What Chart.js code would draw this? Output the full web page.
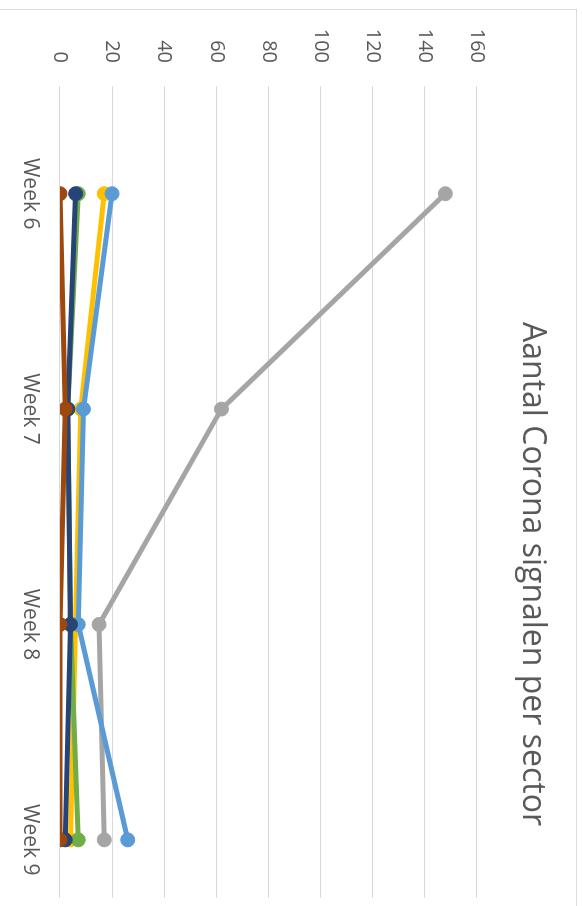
<!DOCTYPE html>
<html>
<head>
<meta charset="utf-8">
<script src="https://cdn.jsdelivr.net/npm/chart.js@4"></script>
<style>
  html, body { margin: 0; padding: 0; background: #fff; overflow: hidden; width: 582px; height: 906px; }
  /* chart is drawn landscape and turned a quarter clockwise, like the scan */
  #wrap { position: absolute; left: 0; top: 0; width: 1200px; height: 582px;
          transform-origin: 0 0; transform: translateX(582px) rotate(90deg); }
  #chart { position: absolute; left: 10px; top: 6px; outline: 1px solid #dcdcdc; }
</style>
</head>
<body>
<div id="wrap"><canvas id="chart" width="1128" height="576"></canvas></div>
<script>
const weeks = ["Week 6", "Week 7", "Week 8", "Week 9"];
const yTicks = [0, 20, 40, 60, 80, 100, 120, 140, 160];

const grijs = [148, 62, 15, 17];
const geel = [17, 8, 6, 4];
const blauw = [20, 9, 7, 26];
const groen = [7, 3, 4, 7];
const donkerblauw = [6, 3, 4, 2];
const bruin = [0, 2, 0, 0];

const series = [
    { label: "Reeks 3", data: grijs, color: "#A5A5A5" },
    { label: "Reeks 4", data: geel, color: "#FFC000" },
    { label: "Reeks 5", data: blauw, color: "#5B9BD5" },
    { label: "Reeks 6", data: groen, color: "#70AD47" },
    { label: "Reeks 7", data: donkerblauw, color: "#264478" },
    { label: "Reeks 8", data: bruin, color: "#9E480E" },
];

const textColor = "#595959";
const font = "'Open Sans', 'Noto Sans', sans-serif";

const ctx = document.getElementById("chart").getContext("2d");

new Chart(ctx, {
    type: "line",
    data: {
        datasets: series.map((s, i) => ({
            label: s.label,
            data: s.data.map((v, w) => ({ x: w, y: v })),
            borderColor: s.color,
            backgroundColor: s.color,
            borderWidth: 5,
            pointRadius: 7,
            pointBorderWidth: 1,
            tension: 0,
            order: -i, // latere reeksen bovenop, zoals in Excel
        })),
    },
    options: {
        responsive: false,
        animation: false,
        layout: { padding: 0 },
        plugins: {
            legend: { display: false },
            tooltip: { enabled: false },
            title: {
                display: true,
                text: "Aantal Corona signalen per sector",
                color: textColor,
                font: { family: font, size: 32, weight: "normal", lineHeight: 1.2 },
                padding: { top: 25, bottom: 36 },
            },
        },
        scales: {
            x: {
                type: "linear",
                min: -0.5,
                max: 3.27,
                grid: { display: false, drawTicks: false },
                border: { display: false },
                afterBuildTicks: (s) => { s.ticks = weeks.map((w, i) => ({ value: i })); },
                afterFit: (s) => { s.height = 60; },
                ticks: {
                    color: textColor,
                    padding: 17,
                    maxRotation: 0,
                    font: { family: font, size: 21 },
                    callback: (v) => weeks[v],
                },
            },
            y: {
                min: 0,
                max: 160,
                afterBuildTicks: (s) => { s.ticks = yTicks.map((v) => ({ value: v })); },
                afterFit: (s) => { s.width = 76; },
                grid: { color: "#d9d9d9", lineWidth: 1, drawTicks: false },
                border: { display: false },
                ticks: {
                    color: textColor,
                    padding: 23,
                    font: { family: font, size: 20 },
                },
            },
            // lege ruimte rechts waar in het origineel de (afgesneden) legenda staat
            ruimte: {
                position: "right",
                min: 0,
                max: 160,
                afterFit: (s) => { s.width = 240; },
                grid: { display: false, drawTicks: false },
                border: { display: false },
                ticks: { display: false },
            },
        },
    },
});
</script>
</body>
</html>
